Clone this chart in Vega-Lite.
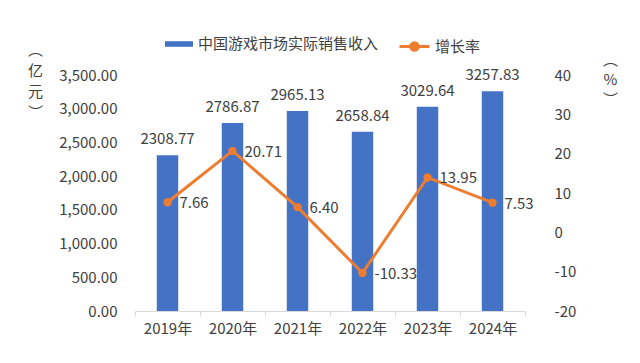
{
  "$schema": "https://vega.github.io/schema/vega-lite/v6.json",
  "width": 390,
  "height": 236,
  "autosize": {"type": "none"},
  "padding": {"left": 135, "top": 75, "right": 115, "bottom": 52},
  "background": "white",
  "config": {
    "font": "Noto Sans CJK SC",
    "view": {"stroke": null},
    "axis": {"labelFont": "Noto Sans CJK SC", "labelFontSize": 15, "labelColor": "#404040", "titleFont": "Noto Sans CJK SC", "titleColor": "#404040", "grid": false},
    "legend": {"labelFont": "Noto Sans CJK SC", "labelFontSize": 15, "labelColor": "#404040", "title": null, "labelLimit": 400}
  },
  "data": {
    "values": [
      {"year": "2019年", "revenue": 2308.77, "growth": 7.66},
      {"year": "2020年", "revenue": 2786.87, "growth": 20.71},
      {"year": "2021年", "revenue": 2965.13, "growth": 6.40},
      {"year": "2022年", "revenue": 2658.84, "growth": -10.33},
      {"year": "2023年", "revenue": 3029.64, "growth": 13.95},
      {"year": "2024年", "revenue": 3257.83, "growth": 7.53}
    ]
  },
  "encoding": {
    "x": {
      "field": "year", "type": "nominal", "sort": null,
      "scale": {"paddingInner": 0, "paddingOuter": 0},
      "axis": {"title": null, "labelAngle": 0, "domainColor": "#d9d9d9", "tickColor": "#d9d9d9", "tickBand": "extent", "tickSize": 5, "labelPadding": 5}
    }
  },
  "layer": [
    {
      "encoding": {
        "y": {
          "field": "revenue", "type": "quantitative",
          "scale": {"domain": [0, 3500], "nice": false},
          "axis": {
            "values": [0, 500, 1000, 1500, 2000, 2500, 3000, 3500],
            "format": ",.2f", "domain": false, "ticks": false, "tickSize": 0, "labelPadding": 18,
            "title": ["︵", "亿", "元", "︶"], "titleAngle": 0, "titleAlign": "center", "titleBaseline": "top",
            "titleX": -100, "titleY": -33, "titleFontSize": 15, "titleFontWeight": "normal", "titleLineHeight": 21
          }
        }
      },
      "layer": [
        {
          "mark": {"type": "bar", "width": {"band": 0.33}},
          "encoding": {
            "color": {
              "datum": "中国游戏市场实际销售收入",
              "scale": {"range": ["#4472C4"]},
              "legend": {"orient": "none", "legendX": 30, "legendY": -45, "symbolType": "M-1,-0.2H1V0.2H-1Z", "symbolSize": 784, "symbolStrokeWidth": 0, "labelOffset": 5}
            }
          }
        },
        {
          "mark": {"type": "text", "baseline": "bottom", "dy": -8, "fontSize": 15, "color": "#404040", "font": "Noto Sans CJK SC"},
          "encoding": {"text": {"field": "revenue", "type": "quantitative", "format": ".2f"}}
        }
      ]
    },
    {
      "encoding": {
        "y": {
          "field": "growth", "type": "quantitative",
          "scale": {"domain": [-20, 40], "nice": false},
          "axis": {
            "orient": "right",
            "values": [-20, -10, 0, 10, 20, 30, 40],
            "labelExpr": "replace(datum.label, '\u2212', '-')",
            "domain": false, "ticks": false, "tickSize": 0, "labelPadding": 29, "labelAlign": "left",
            "title": ["︵", "%", "︶"], "titleAngle": 0, "titleAlign": "center", "titleBaseline": "top",
            "titleX": 85, "titleY": -23, "titleFontSize": 15, "titleFontWeight": "normal", "titleLineHeight": 20
          }
        }
      },
      "layer": [
        {
          "mark": {"type": "line", "strokeWidth": 3, "point": {"filled": true, "size": 70}},
          "encoding": {
            "color": {
              "datum": "增长率",
              "scale": {"range": ["#ED7D31"]},
              "legend": {"orient": "none", "legendX": 263, "legendY": -45, "symbolType": "M-1,0H1M-0.25,0A0.25,0.25 0 1,1 0.25,0A0.25,0.25 0 1,1 -0.25,0", "symbolSize": 900, "symbolStrokeWidth": 3, "labelOffset": 4}
            }
          }
        },
        {
          "transform": [{"calculate": "replace(format(datum.growth, '.2f'), '\u2212', '-')", "as": "growthLabel"}],
          "mark": {"type": "text", "align": "left", "baseline": "middle", "dx": 12, "dy": 1, "fontSize": 15, "color": "#404040", "font": "Noto Sans CJK SC"},
          "encoding": {"text": {"field": "growthLabel", "type": "nominal"}}
        }
      ]
    }
  ],
  "resolve": {"scale": {"y": "independent", "color": "independent"}, "legend": {"color": "independent"}}
}
